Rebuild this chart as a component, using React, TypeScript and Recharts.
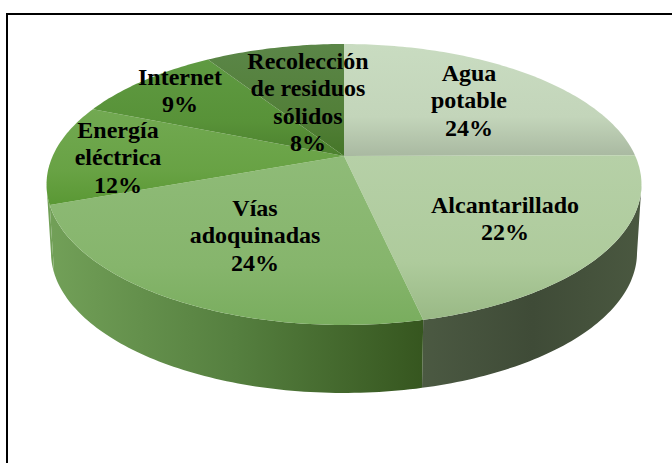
import React from "react";
import { PieChart, Pie } from "recharts";

const categories = ["Agua\npotable", "Alcantarillado", "Vías\nadoquinadas", "Energía\neléctrica", "Internet", "Recolección\nde residuos\nsólidos"];
const shares = [24.9, 21.6, 23, 11.6, 9.7, 9.2];
const percentLabels = ["24%", "22%", "24%", "12%", "9%", "8%"];

const topLight = ["#c9dcc1", "#b6d0a7", "#8fbb78", "#72a952", "#5f9a42", "#5b8648"];
const topMid = ["#c3d5ba", "#aecb9c", "#86b56c", "#68a244", "#589238", "#527f38"];
const topDark = ["#a9b9a1", "#99b985", "#79ad5e", "#5a9834", "#4c802e", "#457628"];
const wallStart = ["#444f3c", "#4b5942", "#72a058", "#72a058", "#444", "#444"];
const wallMid = ["#444f3c", "#3f4b37", "#557f3f", "#72a058", "#444", "#444"];
const wallEnd = ["#444f3c", "#4a5840", "#36561f", "#72a058", "#444", "#444"];
const labelAnchors: [number, number][] = [[469, 81], [505, 213], [255, 216], [118, 138], [180, 85], [308, 69]];

const P = 0.2027;
const X_RATIO = 291.3 / 134.7;
const DEPTH = 68;
const BOTTOM_SCALE = 0.985;

function project(theta: number, cx: number, cy: number, r: number) {
  const rad = (theta * Math.PI) / 180;
  const u = Math.sin(rad);
  const v = Math.cos(rad);
  const w = 1 + P * v;
  return { x: cx + (r * X_RATIO * u) / w, y: cy - (r * v) / w };
}

function arcPoints(t0: number, t1: number, cx: number, cy: number, r: number) {
  const n = Math.max(2, Math.ceil(Math.abs(t1 - t0)));
  const pts = [];
  for (let i = 0; i <= n; i++) pts.push(project(t0 + ((t1 - t0) * i) / n, cx, cy, r));
  return pts;
}

const toPath = (pts: { x: number; y: number }[]) =>
  pts.map((p, i) => `${i ? "L" : "M"}${p.x.toFixed(2)} ${p.y.toFixed(2)}`).join(" ");

function EllipticSlice(props: any) {
  const { cx, cy, outerRadius, startAngle, endAngle, index } = props;
  const t0 = 90 - startAngle;
  const t1 = 90 - endAngle;
  const top = arcPoints(t0, t1, cx, cy, outerRadius);
  const wa = Math.max(t0, 102);
  const wb = Math.min(t1, 258);
  const rim = wb > wa ? arcPoints(wa, wb, cx, cy, outerRadius) : [];
  const low = rim.map((p) => ({ x: cx + (p.x - cx) * BOTTOM_SCALE, y: p.y + DEPTH })).reverse();
  const minX = rim.length ? Math.min(...rim.map((p) => p.x)) : 0;
  const maxX = rim.length ? Math.max(...rim.map((p) => p.x)) : 1;
  return (
    <g>
      <defs>
        <linearGradient id={`top${index}`} gradientUnits="userSpaceOnUse" x1="0" x2="0"
          y1={Math.min(...top.map((p) => p.y), cy)} y2={Math.max(...top.map((p) => p.y), cy)}>
          <stop offset="0" stopColor={topLight[index]} />
          <stop offset="0.65" stopColor={topMid[index]} />
          <stop offset="1" stopColor={topDark[index]} />
        </linearGradient>
        <linearGradient id={`wall${index}`} gradientUnits="userSpaceOnUse" x1={minX} x2={maxX} y1="0" y2="0">
          <stop offset="0" stopColor={wallStart[index]} />
          <stop offset="0.5" stopColor={wallMid[index]} />
          <stop offset="1" stopColor={wallEnd[index]} />
        </linearGradient>
      </defs>
      {rim.length > 0 && <path d={`${toPath([...rim, ...low])} Z`} fill={`url(#wall${index})`} />}
      <path d={`M${cx} ${cy} ${toPath(top).replace(/^M/, "L")} Z`} fill={`url(#top${index})`} />
    </g>
  );
}

function SliceLabel(props: any) {
  const { index } = props;
  const [x, y] = labelAnchors[index];
  const lines = [...categories[index].split("\n"), percentLabels[index]];
  return (
    <text x={x} y={y} textAnchor="middle" fontFamily="'Liberation Serif', serif" fontWeight="bold" fontSize={24} fill="#000">
      {lines.map((l, i) => (
        <tspan key={i} x={x} y={y + i * 27.4}>{l}</tspan>
      ))}
    </text>
  );
}

const data = categories.map((name, i) => ({ name, value: shares[i] }));

export default function App() {
  return (
    <div style={{ position: "absolute", left: 0, top: 0, width: 672, height: 463, overflow: "hidden", background: "#fff" }}>
      <div style={{ position: "absolute", left: 6, top: 13, width: 700, height: 500, borderLeft: "2px solid #000", borderTop: "2px solid #000" }} />
      <div style={{ position: "absolute", left: 0, top: 0 }}>
        <PieChart width={672} height={463} margin={{ top: 0, right: 0, bottom: 0, left: 0 }}>
          <Pie
            data={data}
            dataKey="value"
            nameKey="name"
            cx={344}
            cy={156}
            outerRadius={134.7}
            startAngle={90}
            endAngle={-270}
            stroke="none"
            isAnimationActive={false}
            labelLine={false}
            label={SliceLabel}
            shape={EllipticSlice}
          />
        </PieChart>
      </div>
    </div>
  );
}
